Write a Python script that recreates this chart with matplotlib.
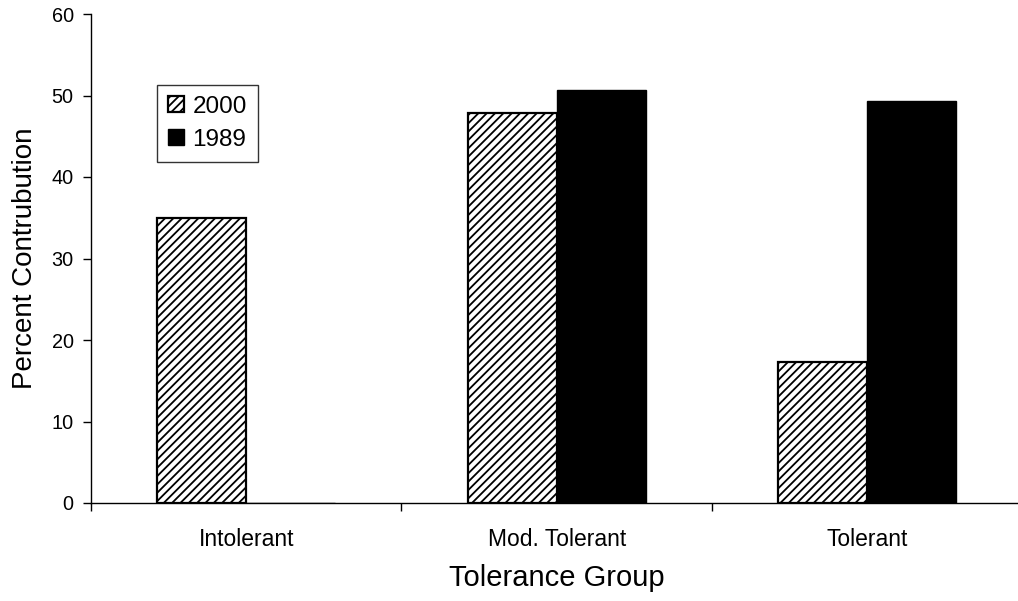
import matplotlib
matplotlib.use("Agg")
import matplotlib.pyplot as plt
import numpy as np

categories = ["Intolerant", "Mod. Tolerant", "Tolerant"]
series_names = ["2000", "1989"]
vals_2000 = [35.0, 47.8, 17.3]
vals_1989 = [0.0, 50.7, 49.3]
yticks = [0, 10, 20, 30, 40, 50, 60]

plt.rcParams['font.family'] = ['Liberation Sans', 'DejaVu Sans']
plt.rcParams['hatch.linewidth'] = 1.3

fig = plt.figure(figsize=(10.18, 6.01), dpi=100)
W, H = 1018, 601
left, right, top, bottom = 91, 1022.5, 14, 503
ax = fig.add_axes([left / W, 1 - bottom / H, (right - left) / W, (bottom - top) / H])

x = np.arange(len(categories))
w = 0.287
ax.bar(x - w / 2, vals_2000, w, facecolor='white', edgecolor='black', hatch='////',
       linewidth=1.6, label=series_names[0])
ax.bar(x + w / 2, vals_1989, w, facecolor='black', edgecolor='black', linewidth=1.0,
       label=series_names[1])

ax.set_xlim(-0.5, len(categories) - 0.5)
ax.set_ylim(0, 60)
ax.set_yticks(yticks)
ax.set_xticks(x)
ax.set_xticklabels(categories, fontsize=16.5)
ax.set_xticks(np.arange(len(categories) + 1) - 0.5, minor=True)
ax.tick_params(axis='x', which='major', length=0, pad=18)
ax.tick_params(axis='x', which='minor', length=6, direction='out', width=1)
ax.tick_params(axis='y', length=6, direction='out', width=1, labelsize=14.3, pad=6.5)

for s in ['top', 'right']:
    ax.spines[s].set_visible(False)
ax.spines['left'].set_linewidth(1)
ax.spines['bottom'].set_linewidth(1)

ax.set_xlabel("Tolerance Group", fontsize=21, labelpad=9)
ax.set_ylabel("Percent Contrubution", fontsize=20, labelpad=10)

leg = ax.legend(loc='upper left', bbox_to_anchor=(0.0709, 0.855), borderaxespad=0,
                fontsize=17.5, frameon=True, fancybox=False, handlelength=0.65,
                handleheight=0.65, handletextpad=0.35, borderpad=0.45, labelspacing=0.45)
leg.get_frame().set_edgecolor('black')
leg.get_frame().set_linewidth(1)

fig.savefig("out.png", dpi=100)
